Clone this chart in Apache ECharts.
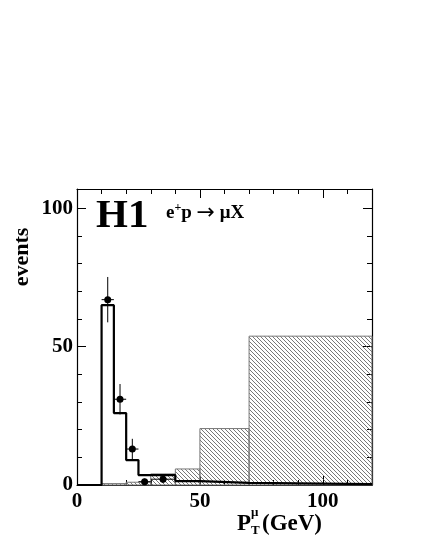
<!DOCTYPE html>
<html>
<head>
<meta charset="utf-8">
<script src="https://cdn.jsdelivr.net/npm/echarts@6/dist/echarts.min.js"></script>
<style>
  html, body { margin: 0; padding: 0; background: #fff; }
  #main { width: 427px; height: 553px; }
</style>
</head>
<body>
<div id="main"></div>
<script>
// background (hatched) histogram: bin edges and contents
const bgLow = [10, 20, 30, 40, 50, 70]
const bgHigh = [20, 30, 40, 50, 70, 120]
const bgVal = [0.5, 1.0, 4.0, 5.8, 20.4, 53.8]

// total expectation (thick black line), step histogram
const mcEdges = [0, 10, 15, 20, 25, 30, 40, 50, 70, 120]
const mcVal = [0, 65, 26, 9, 3.6, 3.6, 1.4, 0.8, 0.3]

// data points with errors
const dataX = [12.5, 17.5, 22.5, 27.5, 35]
const dataY = [67, 31, 13, 1.2, 2.1]
const dataErr = [8.2, 5.5, 3.7, 1.1, 1.4]
const dataXHalf = [2.5, 2.5, 2.5, 2.5, 5]

const xTicks = [0, 50, 100]
const yTicks = [0, 50, 100]

const serif = '"Liberation Serif", "DejaVu Serif", serif'

// hatch pattern
const tile = document.createElement('canvas')
tile.width = 4
tile.height = 4
const tc = tile.getContext('2d')
tc.strokeStyle = '#555'
tc.lineWidth = 0.8
tc.beginPath()
tc.moveTo(-1, -1); tc.lineTo(5, 5)
tc.moveTo(-1, 3); tc.lineTo(1, 5)
tc.moveTo(3, -1); tc.lineTo(5, 1)
tc.stroke()
const hatch = { image: tile, repeat: 'repeat' }

const bgData = bgLow.map((l, i) => [l, bgHigh[i], bgVal[i]])
const mcData = mcEdges.map((e, i) => [e, i < mcVal.length ? mcVal[i] : mcVal[mcVal.length - 1]])
const ptData = dataX.map((x, i) => [x, dataY[i], dataErr[i], dataXHalf[i]])

const labelFmt = v => (xTicks.indexOf(v) >= 0 ? String(v) : '')
const yFmt = v => (yTicks.indexOf(v) >= 0 ? String(v) : '')

const tickStyle = { show: true, inside: true, length: 9, lineStyle: { color: '#000', width: 1 } }
const minorStyle = { show: true, splitNumber: 5, length: 5, lineStyle: { color: '#000', width: 1 } }

const myChart = echarts.init(document.getElementById('main'))
const option = {
  animation: false,
  grid: { left: 77, right: 55, top: 189, bottom: 68 },
  xAxis: [
    {
      type: 'value', min: 0, max: 120, interval: 50, position: 'bottom',
      axisLine: { show: true, onZero: false, lineStyle: { color: '#000', width: 1.2 } },
      axisTick: tickStyle,
      minorTick: minorStyle,
      splitLine: { show: false },
      axisLabel: { formatter: labelFmt, fontFamily: serif, fontWeight: 'bold', fontSize: 21, color: '#000', margin: 6 }
    },
    {
      type: 'value', min: 0, max: 120, interval: 50, position: 'top',
      axisLine: { show: true, onZero: false, lineStyle: { color: '#000', width: 1.2 } },
      axisTick: tickStyle,
      minorTick: minorStyle,
      splitLine: { show: false },
      axisLabel: { show: false }
    }
  ],
  yAxis: [
    {
      type: 'value', min: 0, max: 107, interval: 50, position: 'left',
      axisLine: { show: true, onZero: false, lineStyle: { color: '#000', width: 1.2 } },
      axisTick: tickStyle,
      minorTick: minorStyle,
      splitLine: { show: false },
      axisLabel: { formatter: yFmt, fontFamily: serif, fontWeight: 'bold', fontSize: 21, color: '#000', margin: 4 }
    },
    {
      type: 'value', min: 0, max: 107, interval: 50, position: 'right',
      axisLine: { show: true, onZero: false, lineStyle: { color: '#000', width: 1.2 } },
      axisTick: tickStyle,
      minorTick: minorStyle,
      splitLine: { show: false },
      axisLabel: { show: false }
    }
  ],
  graphic: [
    { type: 'text', left: 96, top: 196, style: { text: 'H1', font: 'bold 41px ' + serif, fill: '#000' } },
    {
      type: 'text', left: 166, top: 202,
      style: {
        text: '{b|e}{s|+}{b|p }{a|\u2192}{b| \u03bcX}',
        rich: {
          b: { font: 'bold 19px ' + serif, fill: '#000' },
          a: { font: '22px "DejaVu Sans", ' + serif, fill: '#000' },
          s: { font: 'bold 12px ' + serif, fill: '#000', verticalAlign: 'top', padding: [0, 0, 8, 0] }
        }
      }
    },
    { type: 'text', x: 22, y: 257, rotation: Math.PI / 2, style: { text: 'events', font: 'bold 22px ' + serif, fill: '#000', align: 'center', verticalAlign: 'middle' } },
    { type: 'text', left: 237, top: 513, style: { text: 'P', font: 'bold 23px ' + serif, fill: '#000' } },
    { type: 'text', left: 251, top: 506, style: { text: '\u03bc', font: 'bold 13px ' + serif, fill: '#000' } },
    { type: 'text', left: 251, top: 524, style: { text: 'T', font: 'bold 13px ' + serif, fill: '#000' } },
    { type: 'text', left: 262, top: 513, style: { text: '(GeV)', font: 'bold 23px ' + serif, fill: '#000' } }
  ],
  series: [
    {
      type: 'custom',
      xAxisIndex: 0,
      yAxisIndex: 0,
      data: bgData,
      encode: { x: [0, 1], y: 2 },
      renderItem: function (params, api) {
        const p0 = api.coord([api.value(0), api.value(2)])
        const p1 = api.coord([api.value(1), 0])
        return {
          type: 'rect',
          shape: { x: p0[0], y: p0[1], width: p1[0] - p0[0], height: p1[1] - p0[1] },
          style: { fill: hatch, stroke: '#777', lineWidth: 1 }
        }
      },
      z: 1
    },
    {
      type: 'line',
      step: 'end',
      data: mcData,
      symbol: 'none',
      lineStyle: { color: '#000', width: 2.2 },
      z: 3
    },
    {
      type: 'custom',
      data: ptData,
      encode: { x: 0, y: 1 },
      renderItem: function (params, api) {
        const x = api.value(0), y = api.value(1), e = api.value(2), h = api.value(3)
        const top = api.coord([x, y + e])
        const bot = api.coord([x, y - e])
        const l = api.coord([x - h, y])
        const r = api.coord([x + h, y])
        const c = api.coord([x, y])
        return {
          type: 'group',
          children: [
            { type: 'line', shape: { x1: top[0], y1: top[1], x2: bot[0], y2: bot[1] }, style: { stroke: '#000', lineWidth: 1 } },
            { type: 'line', shape: { x1: l[0], y1: l[1], x2: r[0], y2: r[1] }, style: { stroke: '#000', lineWidth: 1 } },
            { type: 'circle', shape: { cx: c[0], cy: c[1], r: 3.5 }, style: { fill: '#000' } }
          ]
        }
      },
      z: 5
    }
  ]
}
myChart.setOption(option)
</script>
</body>
</html>
